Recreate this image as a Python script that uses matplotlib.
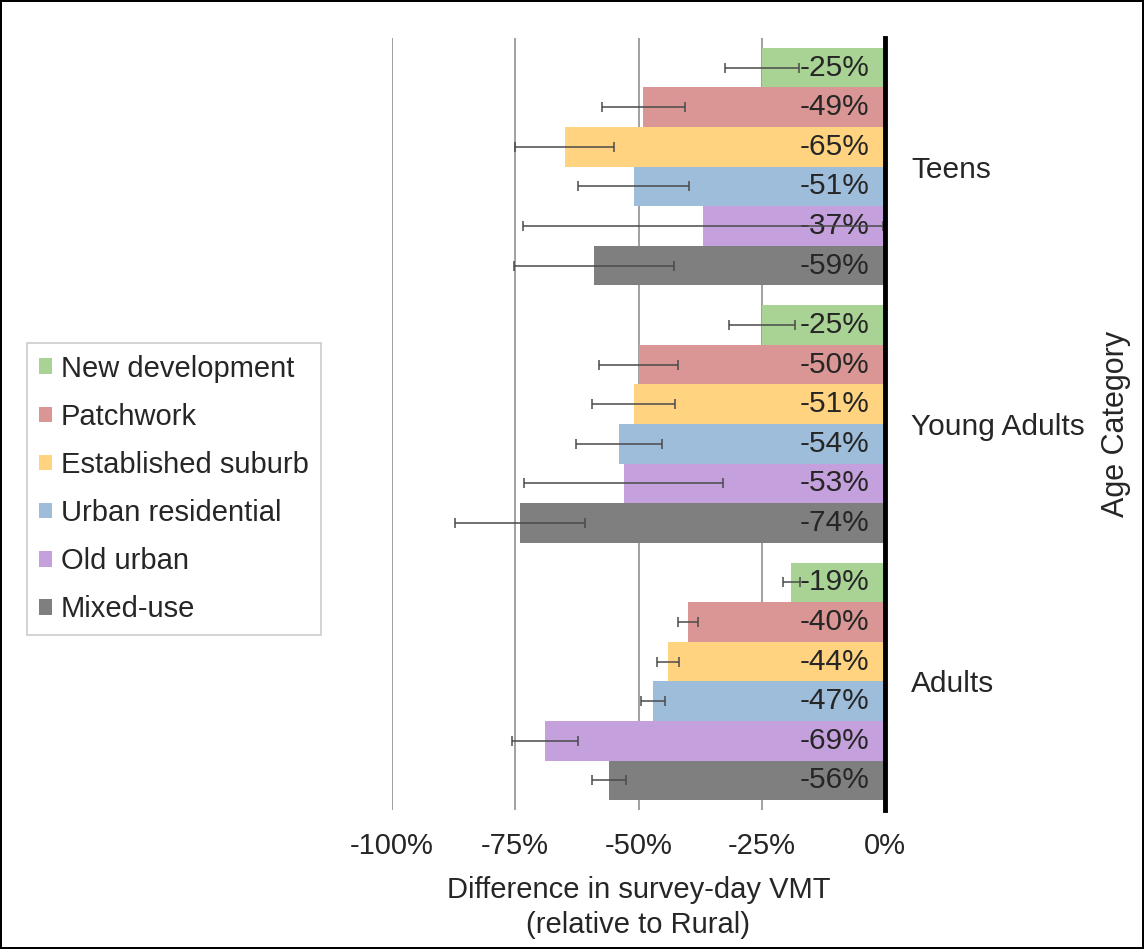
import matplotlib
matplotlib.use("Agg")
import matplotlib.pyplot as plt
from matplotlib.patches import Patch
from matplotlib.ticker import FuncFormatter
import numpy as np

plt.rcParams['font.family'] = ['Liberation Sans', 'DejaVu Sans']

# Age categories (top to bottom)
categories = ['Teens', 'Young Adults', 'Adults']

# Neighborhood types (top to bottom within each age group)
series_names = ['New development', 'Patchwork', 'Established suburb',
                'Urban residential', 'Old urban', 'Mixed-use']
series_colors = ['#a8d394', '#d99694', '#ffd37f', '#9dbddb', '#c4a0dc', '#7f7f7f']

# Difference in survey-day VMT relative to Rural (%), per age category
new_development = [-25, -25, -19]
patchwork = [-49, -50, -40]
established_suburb = [-65, -51, -44]
urban_residential = [-51, -54, -47]
old_urban = [-37, -53, -69]
mixed_use = [-59, -74, -56]

# Half-widths of the confidence intervals (% points)
new_development_err = [7.5, 6.7, 1.7]
patchwork_err = [8.5, 8.0, 2.0]
established_suburb_err = [10.0, 8.5, 2.3]
urban_residential_err = [11.3, 8.7, 2.4]
old_urban_err = [36.5, 20.2, 6.7]
mixed_use_err = [16.2, 13.2, 3.5]

x_ticks = [-100, -75, -50, -25, 0]

series_values = [new_development, patchwork, established_suburb,
                 urban_residential, old_urban, mixed_use]
series_errors = [new_development_err, patchwork_err, established_suburb_err,
                 urban_residential_err, old_urban_err, mixed_use_err]

W, H = 1144, 949
fig = plt.figure(figsize=(W / 100, H / 100), dpi=100)
fig.patch.set_facecolor('white')
fig.patch.set_edgecolor('black')
fig.patch.set_linewidth(1.5)

ax = fig.add_axes([392 / W, 1 - 810 / H, (885 - 392) / W, (810 - 38) / H])

n = len(series_names)
bar_h = 1.0 / (n + 0.5)
group_pos = np.arange(len(categories))

text_color = '#262626'

for i, (name, vals, errs, col) in enumerate(zip(series_names, series_values,
                                                 series_errors, series_colors)):
    ys = group_pos + (i - (n - 1) / 2) * bar_h
    ax.barh(ys, vals, height=bar_h, color=col, label=name, zorder=2,
            xerr=errs,
            error_kw=dict(ecolor='#4a4a4a', elinewidth=1.1, capsize=3.6,
                          capthick=1.1, zorder=4))
    for y, v in zip(ys, vals):
        ax.annotate(f'{v}%', xy=(0, y), xytext=(-11, 0),
                    textcoords='offset points', ha='right', va='center',
                    fontsize=21.5, color=text_color, zorder=3)

ax.set_xlim(-100, 0)
ax.set_ylim(len(categories) - 0.5, -0.5)

ax.set_xticks(x_ticks)
ax.xaxis.set_major_formatter(FuncFormatter(lambda v, p: f'{v:.0f}%'))
ax.tick_params(axis='x', length=0, pad=16, labelsize=21, labelcolor=text_color)

ax.set_yticks(group_pos)
ax.set_yticklabels(categories)
ax.yaxis.tick_right()
ax.tick_params(axis='y', length=0, pad=19, labelsize=21.5, labelcolor=text_color)

ax.grid(axis='x', color='#868686', linewidth=1.1, zorder=0)
ax.set_axisbelow(True)
for side in ['top', 'bottom', 'left']:
    ax.spines[side].set_visible(False)
ax.spines['right'].set_color('black')
ax.spines['right'].set_linewidth(3.5)
ax.spines['right'].set_zorder(5)

ax.set_xlabel('Difference in survey-day VMT\n(relative to Rural)', fontsize=21,
              color=text_color, labelpad=11, linespacing=1.34)
ax.yaxis.set_label_position('right')
ax.set_ylabel('Age Category', fontsize=22, color=text_color, rotation=90)
ax.yaxis.set_label_coords((1101 - 392) / (885 - 392), 0.5)

handles = [Patch(facecolor=c, edgecolor='none') for c in series_colors]
leg = fig.legend(handles, series_names, loc='upper left',
                 bbox_to_anchor=(27 / W, (949 - 634) / H, (321 - 27) / W, (634 - 343) / H),
                 bbox_transform=fig.transFigure, mode='expand',
                 borderaxespad=0, frameon=True, fancybox=False, fontsize=21,
                 handlelength=0.45, handleheight=0.45, handletextpad=0.3,
                 labelspacing=0.69, borderpad=0.4, labelcolor=text_color)
leg.get_frame().set_edgecolor('#bfbfbf')
leg.get_frame().set_linewidth(1.2)

fig.savefig('out.png', dpi=100, facecolor=fig.get_facecolor(),
            edgecolor=fig.get_edgecolor())
